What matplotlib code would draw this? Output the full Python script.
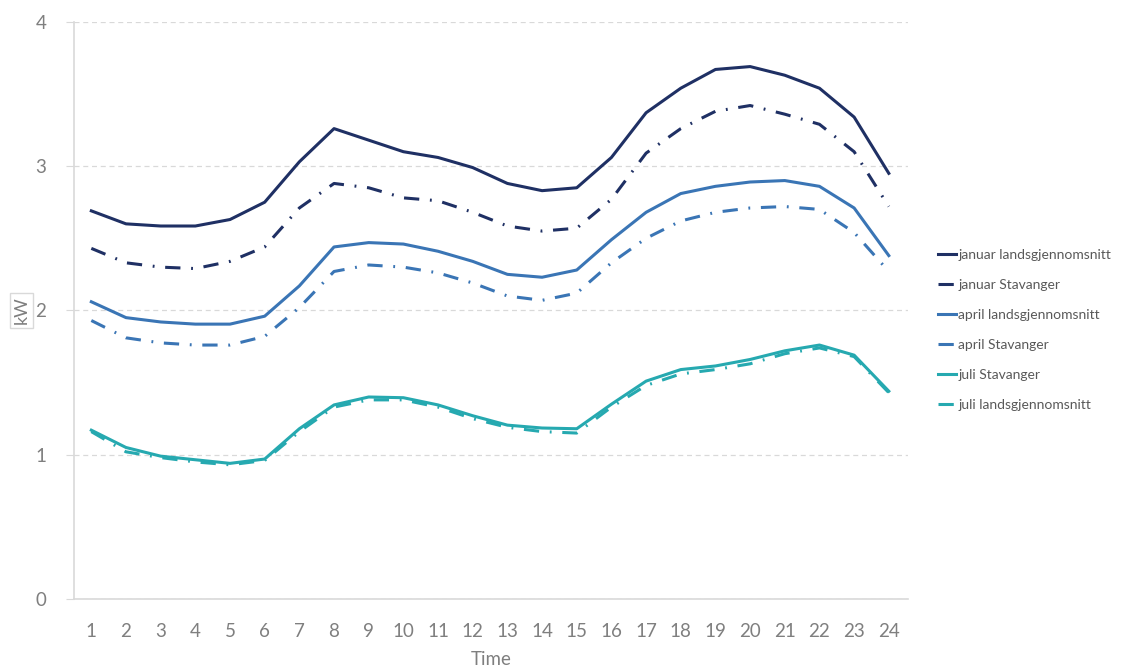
import numpy as np
import matplotlib.pyplot as plt

hours = list(range(1, 25))

jan_lands = [2.69, 2.60, 2.585, 2.585, 2.63, 2.75, 3.03, 3.26, 3.18, 3.10, 3.06, 2.99,
             2.88, 2.83, 2.85, 3.06, 3.37, 3.54, 3.67, 3.69, 3.63, 3.54, 3.34, 2.95]
jan_stav = [2.43, 2.33, 2.30, 2.29, 2.34, 2.44, 2.71, 2.88, 2.85, 2.78, 2.76, 2.68,
            2.585, 2.55, 2.57, 2.77, 3.09, 3.26, 3.38, 3.42, 3.36, 3.29, 3.10, 2.72]
apr_lands = [2.06, 1.95, 1.92, 1.905, 1.905, 1.96, 2.17, 2.44, 2.47, 2.46, 2.41, 2.34,
             2.25, 2.23, 2.28, 2.49, 2.68, 2.81, 2.86, 2.89, 2.90, 2.86, 2.71, 2.38]
apr_stav = [1.93, 1.81, 1.775, 1.76, 1.76, 1.82, 2.02, 2.27, 2.315, 2.30, 2.26, 2.19,
            2.10, 2.07, 2.12, 2.33, 2.50, 2.62, 2.68, 2.71, 2.72, 2.70, 2.54, 2.27]
jul_stav = [1.17, 1.05, 0.99, 0.965, 0.94, 0.97, 1.18, 1.345, 1.40, 1.395, 1.345, 1.27,
            1.205, 1.185, 1.18, 1.35, 1.51, 1.59, 1.615, 1.66, 1.72, 1.76, 1.69, 1.44]
jul_lands = [1.16, 1.02, 0.98, 0.95, 0.93, 0.96, 1.16, 1.33, 1.38, 1.38, 1.33, 1.25,
             1.19, 1.16, 1.15, 1.33, 1.48, 1.56, 1.59, 1.63, 1.70, 1.74, 1.68, 1.43]

navy = '#1f3064'
blue = '#3a75b5'
teal = '#26a9b0'
dashdot = (0, (5, 3.5, 0.6, 3.5))

plt.rcParams['font.family'] = ['Lato', 'DejaVu Sans']

fig = plt.figure(figsize=(11.33, 6.68), dpi=100)
ax = fig.add_axes([0.0653, 0.1033, 0.736, 0.864])

ax.plot(hours, jan_lands, color=navy, lw=2.2, label='januar landsgjennomsnitt')
ax.plot(hours, jan_stav, color=navy, lw=2.2, ls=dashdot, label='januar Stavanger')
ax.plot(hours, apr_lands, color=blue, lw=2.2, label='april landsgjennomsnitt')
ax.plot(hours, apr_stav, color=blue, lw=2.2, ls=dashdot, label='april Stavanger')
ax.plot(hours, jul_stav, color=teal, lw=2.2, label='juli Stavanger')
ax.plot(hours, jul_lands, color=teal, lw=2.2, ls=dashdot, label='juli landsgjennomsnitt')

ax.set_xlim(0.5, 24.55)
ax.set_ylim(0, 4)
ax.set_xticks(hours)
ax.set_yticks([0, 1, 2, 3, 4])
ax.grid(axis='y', color='#d9d9d9', ls=(0, (4, 3)), lw=0.9)
ax.set_axisbelow(True)

for s in ['top', 'right']:
    ax.spines[s].set_visible(False)
ax.spines['left'].set_color('#d9d9d9')
ax.spines['bottom'].set_color('#d9d9d9')
ax.spines['left'].set_linewidth(1.2)
ax.spines['bottom'].set_linewidth(1.2)
ax.tick_params(axis='x', length=0, pad=17, labelsize=13.5, labelcolor='#7f7f7f')
ax.tick_params(axis='y', length=6, color='#d9d9d9', pad=14, labelsize=13.5, labelcolor='#7f7f7f')

ax.set_xlabel('Time', fontsize=13.5, color='#7f7f7f', labelpad=8)
ax.set_ylabel('kW', fontsize=13, color='#7f7f7f', labelpad=4,
              bbox=dict(boxstyle='square,pad=0.2', fc='white', ec='#d9d9d9'))

fig.legend(loc='upper left', bbox_to_anchor=(0.817, 0.646), frameon=False,
           fontsize=10, labelcolor='#595959', handlelength=1.3,
           handletextpad=0.15, labelspacing=1.3)

fig.savefig('out.png', dpi=100)
